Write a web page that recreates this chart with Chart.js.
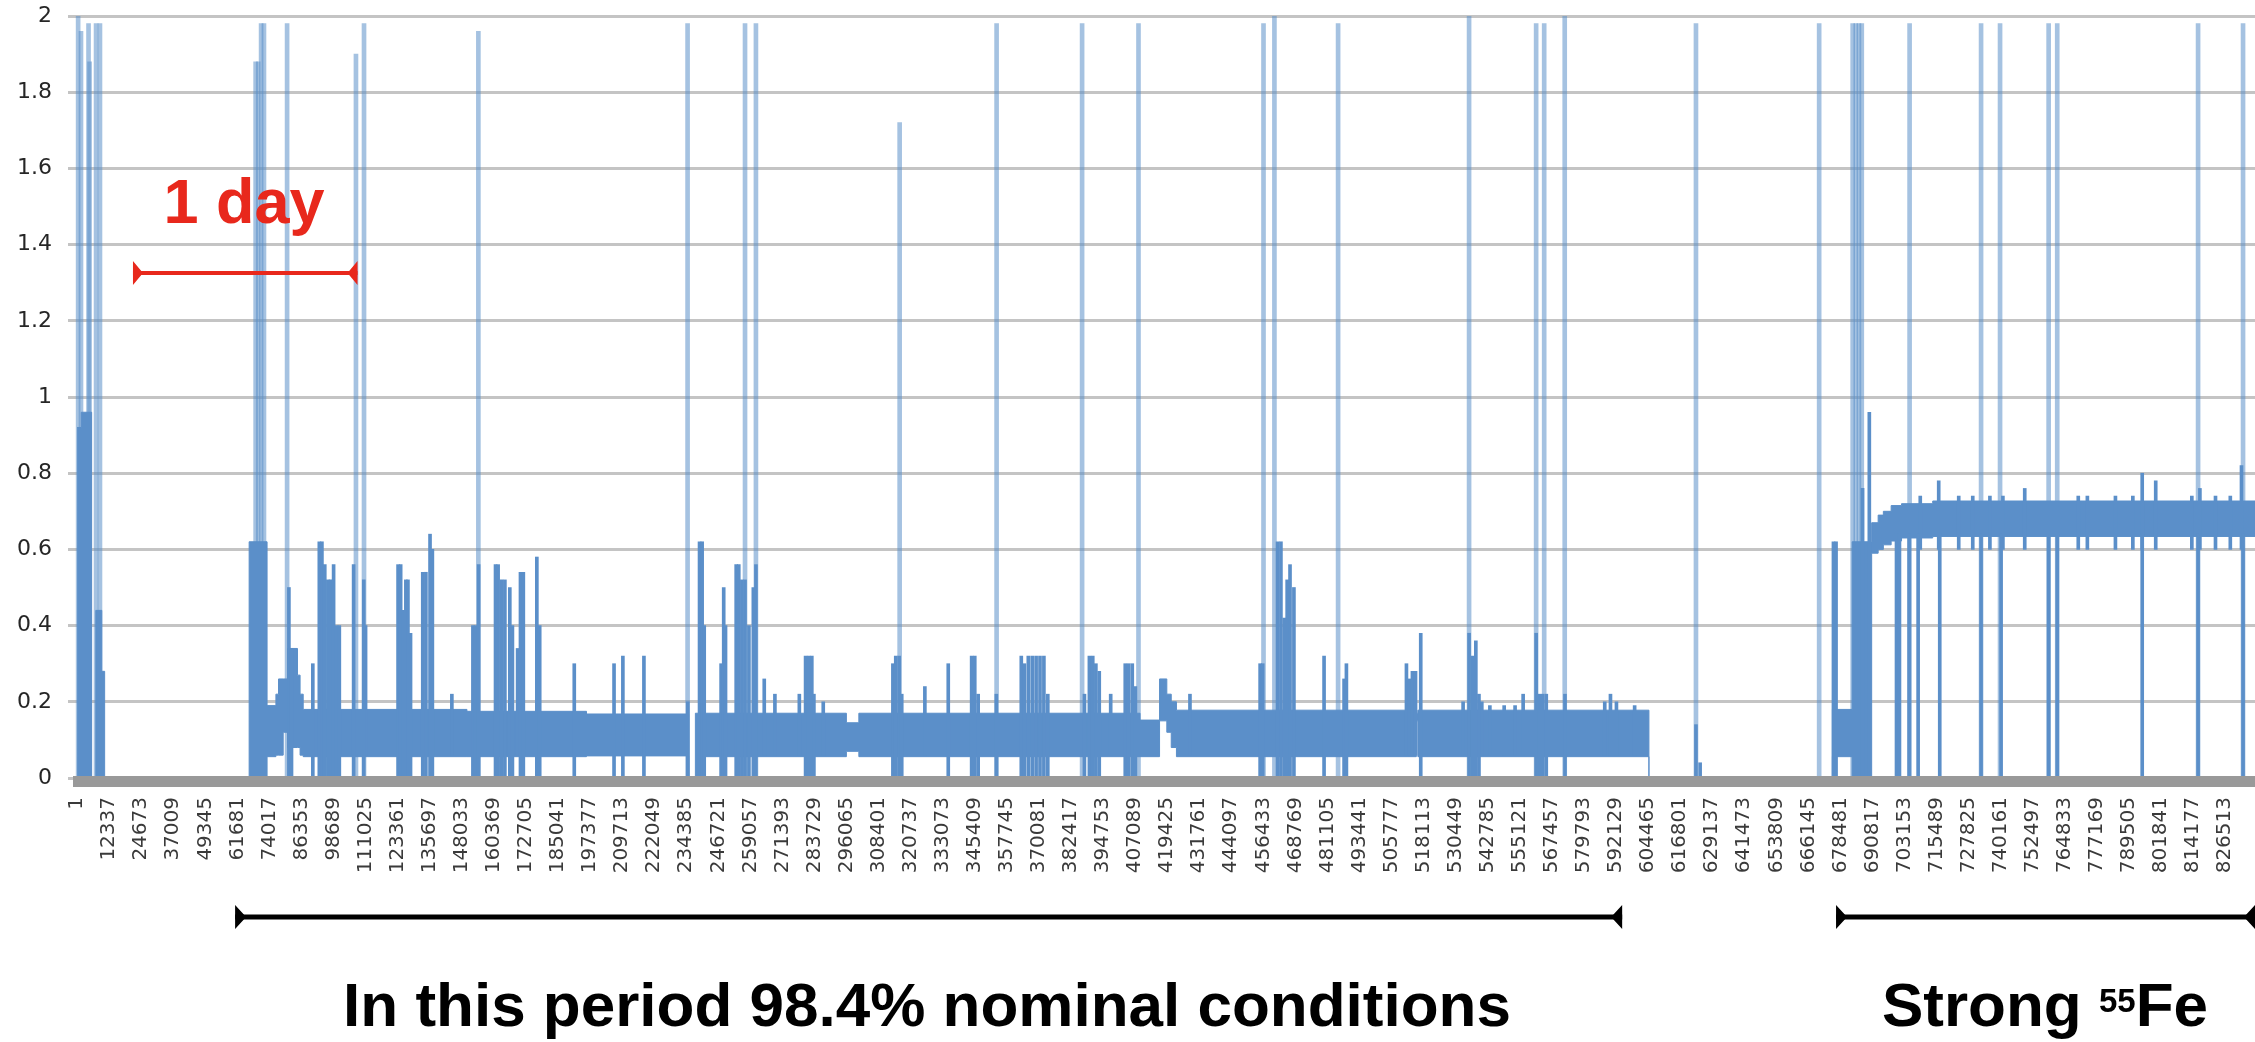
<!DOCTYPE html>
<html>
<head>
<meta charset="utf-8">
<title>Rate vs sample</title>
<script src="https://cdn.jsdelivr.net/npm/chart.js@4.4.1/dist/chart.umd.min.js"></script>
<style>
  html, body { margin: 0; padding: 0; background: #fff; }
  #wrap { position: relative; width: 2255px; height: 1042px; overflow: hidden; }
  #wrap canvas { position: absolute; left: 0; top: 0; }
  .note { position: absolute; font-family: 'Liberation Sans', Arial, sans-serif; font-weight: bold; line-height: 1; white-space: nowrap; text-align: center; }
</style>
</head>
<body>
<div id="wrap">
  <canvas id="rate" width="2255" height="1042"></canvas>
  <div class="note" style="left:144px;width:200px;top:170px;font-size:63px;color:#e8281c">1 day</div>
  <div class="note" style="left:327px;width:1200px;top:974px;font-size:62px;color:#000">In this period 98.4% nominal conditions</div>
  <div class="note" style="left:1845px;width:400px;top:974px;font-size:62px;color:#000">Strong <span style="font-size:33px;position:relative;top:-14px">55</span>Fe</div>
</div>
<script>
// sample index labels on the x axis (every 12336 samples)
const xTickLabels = [1, 12337, 24673, 37009, 49345, 61681, 74017, 86353, 98689, 111025,
  123361, 135697, 148033, 160369, 172705, 185041, 197377, 209713, 222049, 234385,
  246721, 259057, 271393, 283729, 296065, 308401, 320737, 333073, 345409, 357745,
  370081, 382417, 394753, 407089, 419425, 431761, 444097, 456433, 468769, 481105,
  493441, 505777, 518113, 530449, 542785, 555121, 567457, 579793, 592129, 604465,
  616801, 629137, 641473, 653809, 666145, 678481, 690817, 703153, 715489, 727825,
  740161, 752497, 764833, 777169, 789505, 801841, 814177, 826513];

// dense band: envelope of the signal, value holds from bandX[i] to bandX[i+1]
const bandX = [1, 1600, 5600, 7200, 9500, 10600, 66200, 73100, 76500, 77500,
  79300, 81000, 84800, 85800, 87000, 150000, 196000, 235300, 237900, 240500,
  296000, 300800, 409000, 416500, 419300, 421000, 423000, 515300, 515900, 604800,
  675400, 683000, 690500, 693000, 695000, 698000, 702000, 714000, 838000];
const bandLow = [0, 0, 0, 0, 0, 0, 0, 0.056, 0.06, 0.06,
  0.12, 0.08, 0.08, 0.06, 0.056, 0.056, 0.058, 0, 0, 0.056,
  0.07, 0.056, 0.056, 0.15, 0.12, 0.08, 0.056, 0.15, 0.056, 0,
  0.056, 0, 0.59, 0.6, 0.612, 0.622, 0.63, 0.634, 0.634];
const bandHigh = [0.92, 0.96, 0, 0.44, 0.28, 0, 0.62, 0.19, 0.22, 0.26,
  0.26, 0.34, 0.27, 0.22, 0.18, 0.175, 0.168, 0, 0.17, 0.17,
  0.145, 0.17, 0.152, 0.26, 0.22, 0.2, 0.178, 0.17, 0.178, 0,
  0.18, 0.62, 0.67, 0.69, 0.70, 0.715, 0.72, 0.727, 0.727];

// isolated single-sample flares (from 0)
const flareX = [400, 1500, 4400, 4800, 7300, 8800, 68700, 69700, 70800, 71900,
  80800, 107300, 110400, 154400, 234900, 257000, 261200, 316500, 353800, 386700,
  408400, 456500, 460700, 485200, 535600, 561400, 564500, 572400, 622900, 670300,
  683200, 684400, 685600, 686700, 705100, 732600, 739900, 758600, 761900, 816100,
  833400];
const flareTop = [2.0, 1.96, 1.98, 1.88, 1.98, 1.98, 1.88, 1.88, 1.98, 1.98,
  1.98, 1.90, 1.98, 1.96, 1.98, 1.98, 1.98, 1.72, 1.98, 1.98,
  1.98, 1.98, 2.0, 1.98, 2.0, 1.98, 1.98, 2.0, 1.98, 1.98,
  1.98, 1.98, 1.98, 1.98, 1.98, 1.98, 1.98, 1.98, 1.98, 1.98,
  1.98];

// bursts: dense excursions reaching down to 0
const burstX = [81500, 82500, 90700, 93200, 94200, 95300, 96500, 97500, 98700, 99900,
  100900, 106400, 110300, 123500, 124500, 125500, 126500, 127300, 128300, 133000,
  134200, 135800, 136700, 152300, 153300, 154500, 161000, 162000, 163300, 164600,
  166500, 167500, 170600, 171700, 176900, 178000, 191300, 206600, 210000, 218100,
  235000, 239500, 240500, 241300, 247800, 248800, 249500, 253600, 254600, 255800,
  257000, 258500, 260200, 261200, 280300, 281500, 282700, 283500, 313900, 315000,
  316300, 317300, 335200, 344200, 345400, 346700, 353700, 363300, 364500, 366000,
  367500, 369000, 370500, 372000, 373500, 387600, 389500, 390800, 392000, 393300,
  403300, 404600, 406000, 407200, 455200, 456200, 461900, 463200, 464500, 465600,
  466700, 468200, 479800, 487500, 488400, 517000, 535600, 537000, 538200, 539400,
  561400, 562600, 563900, 565300, 572500, 622900, 624500, 675800, 676800, 687000,
  689600, 700060, 701200, 704920, 708380, 716700, 732600, 740300, 758600, 761900,
  794600, 816100, 833400];
const burstTop = [0.50, 0.34, 0.30, 0.62, 0.62, 0.56, 0.52, 0.52, 0.56, 0.40,
  0.40, 0.56, 0.52, 0.56, 0.56, 0.44, 0.52, 0.52, 0.38, 0.54,
  0.54, 0.64, 0.60, 0.40, 0.40, 0.56, 0.56, 0.56, 0.52, 0.52,
  0.50, 0.40, 0.54, 0.54, 0.58, 0.40, 0.30, 0.30, 0.32, 0.32,
  0.20, 0.62, 0.62, 0.40, 0.30, 0.50, 0.40, 0.56, 0.56, 0.52,
  0.52, 0.40, 0.50, 0.56, 0.32, 0.32, 0.32, 0.22, 0.30, 0.32,
  0.32, 0.22, 0.30, 0.32, 0.32, 0.22, 0.22, 0.32, 0.30, 0.32,
  0.32, 0.32, 0.32, 0.32, 0.22, 0.22, 0.32, 0.32, 0.30, 0.28,
  0.30, 0.30, 0.30, 0.24, 0.30, 0.30, 0.62, 0.62, 0.42, 0.52,
  0.56, 0.50, 0.32, 0.26, 0.30, 0.38, 0.38, 0.32, 0.36, 0.22,
  0.38, 0.22, 0.22, 0.22, 0.22, 0.14, 0.04, 0.62, 0.62, 0.76,
  0.96, 0.64, 0.64, 0.64, 0.64, 0.64, 0.64, 0.64, 0.64, 0.64,
  0.64, 0.64, 0.64];

// small ripples sitting on top of the band
const ripX = [111000, 144200, 169500, 264400, 268500, 277900, 287100, 326200, 397700, 428200,
  511500, 512600, 513800, 515000, 533300, 540500, 543600, 549100, 553300, 556400,
  587800, 590000, 592300, 599300, 709200, 716300, 724000, 729400, 736000, 741000,
  749400, 770000, 773500, 784300, 791000, 794600, 799800, 813700, 816800, 822800,
  828500, 832800];
const ripLow = [0.06, 0.06, 0.06, 0.06, 0.06, 0.06, 0.06, 0.06, 0.06, 0.06,
  0.06, 0.06, 0.06, 0.06, 0.06, 0.06, 0.06, 0.06, 0.06, 0.06,
  0.06, 0.06, 0.06, 0.06, 0.6, 0.6, 0.6, 0.6, 0.6, 0.6,
  0.6, 0.6, 0.6, 0.6, 0.6, 0.6, 0.6, 0.6, 0.6, 0.6,
  0.6, 0.6];
const ripTop = [0.40, 0.22, 0.34, 0.26, 0.22, 0.22, 0.20, 0.24, 0.22, 0.22,
  0.30, 0.26, 0.28, 0.28, 0.20, 0.20, 0.19, 0.19, 0.19, 0.22,
  0.20, 0.22, 0.20, 0.19, 0.74, 0.78, 0.74, 0.74, 0.74, 0.74,
  0.76, 0.74, 0.74, 0.74, 0.74, 0.80, 0.78, 0.74, 0.76, 0.74,
  0.74, 0.82];

// annotation spans, in samples
const daySpan = [21500, 107900];
const nominalSpan = [60800, 594500];
const ironStart = 676800;

const BLUE = 'rgb(91,143,201)';
const PALE = 'rgba(91,143,201,0.55)';

Chart.defaults.font.family = "'DejaVu Sans', sans-serif";

function bracket(ctx, x1, x2, y, color, lw, h, d) {
  ctx.strokeStyle = color;
  ctx.fillStyle = color;
  ctx.lineWidth = lw;
  ctx.beginPath();
  ctx.moveTo(x1, y);
  ctx.lineTo(x2, y);
  ctx.stroke();
  ctx.beginPath();
  ctx.moveTo(x1, y - h / 2);
  ctx.lineTo(x1, y + h / 2);
  ctx.lineTo(x1 + d, y);
  ctx.closePath();
  ctx.moveTo(x2, y - h / 2);
  ctx.lineTo(x2, y + h / 2);
  ctx.lineTo(x2 - d, y);
  ctx.closePath();
  ctx.fill();
}

const decorations = {
  id: 'decorations',
  afterDatasetsDraw(chart) {
    const { ctx, chartArea, scales } = chart;
    const y0 = scales.y.getPixelForValue(0);
    ctx.save();
    ctx.fillStyle = '#999999';
    ctx.fillRect(chartArea.left + 5, y0 - 2, chartArea.right - chartArea.left - 5, 11);
    ctx.restore();
  },
  afterDraw(chart) {
    const { ctx, chartArea, scales: { x } } = chart;
    ctx.save();
    bracket(ctx, x.getPixelForValue(daySpan[0]), x.getPixelForValue(daySpan[1]), 273, '#e8281c', 4, 24, 10);
    bracket(ctx, x.getPixelForValue(nominalSpan[0]), x.getPixelForValue(nominalSpan[1]), 917, '#000', 5, 24, 11);
    bracket(ctx, x.getPixelForValue(ironStart), chartArea.right, 917, '#000', 5, 24, 11);
    ctx.restore();
  }
};

new Chart(document.getElementById('rate'), {
  type: 'bar',
  data: {
    datasets: [
      {
        type: 'line',
        label: 'band high',
        data: bandX.map((x, i) => ({ x: x, y: bandHigh[i] })),
        stepped: true,
        fill: '+1',
        backgroundColor: BLUE,
        borderColor: BLUE,
        borderWidth: 1,
        pointRadius: 0,
        order: 2
      },
      {
        type: 'line',
        label: 'band low',
        data: bandX.map((x, i) => ({ x: x, y: bandLow[i] })),
        stepped: true,
        fill: false,
        borderColor: BLUE,
        borderWidth: 1,
        pointRadius: 0,
        order: 2
      },
      {
        label: 'flares',
        data: flareX.map((x, i) => ({ x: x, y: [0, flareTop[i]] })),
        backgroundColor: PALE,
        barThickness: 4,
        grouped: false,
        order: 3
      },
      {
        label: 'bursts',
        data: burstX.map((x, i) => ({ x: x, y: [0, burstTop[i]] })),
        backgroundColor: BLUE,
        barThickness: 3,
        grouped: false,
        order: 1
      },
      {
        label: 'ripples',
        data: ripX.map((x, i) => ({ x: x, y: [ripLow[i], ripTop[i]] })),
        backgroundColor: BLUE,
        barThickness: 3,
        grouped: false,
        order: 1
      }
    ]
  },
  options: {
    responsive: false,
    devicePixelRatio: 1,
    animation: false,
    events: [],
    layout: { padding: { top: 16, left: 0, right: 0, bottom: 0 } },
    plugins: { legend: { display: false }, tooltip: { enabled: false } },
    scales: {
      x: {
        type: 'linear',
        min: -3500,
        max: 838000,
        offset: false,
        grid: { display: false, drawTicks: false },
        border: { display: false },
        afterBuildTicks: (s) => { s.ticks = xTickLabels.map(v => ({ value: v })); },
        afterFit: (s) => { s.height = 264; s.paddingLeft = 0; s.paddingRight = 0; },
        ticks: {
          autoSkip: false,
          minRotation: 90,
          maxRotation: 90,
          padding: 19,
          color: '#3a3a3a',
          font: { size: 20 },
          callback: (v) => String(v)
        }
      },
      y: {
        min: 0,
        max: 2,
        grid: { color: '#c4c4c4', lineWidth: 3, drawTicks: false },
        border: { display: false },
        afterFit: (s) => { s.width = 68; s.paddingTop = 0; s.paddingBottom = 0; },
        ticks: {
          stepSize: 0.2,
          padding: 16,
          color: '#262626',
          font: { size: 22 },
          callback: (v) => String(+v.toFixed(1))
        }
      }
    }
  },
  plugins: [decorations]
});
</script>
</body>
</html>
